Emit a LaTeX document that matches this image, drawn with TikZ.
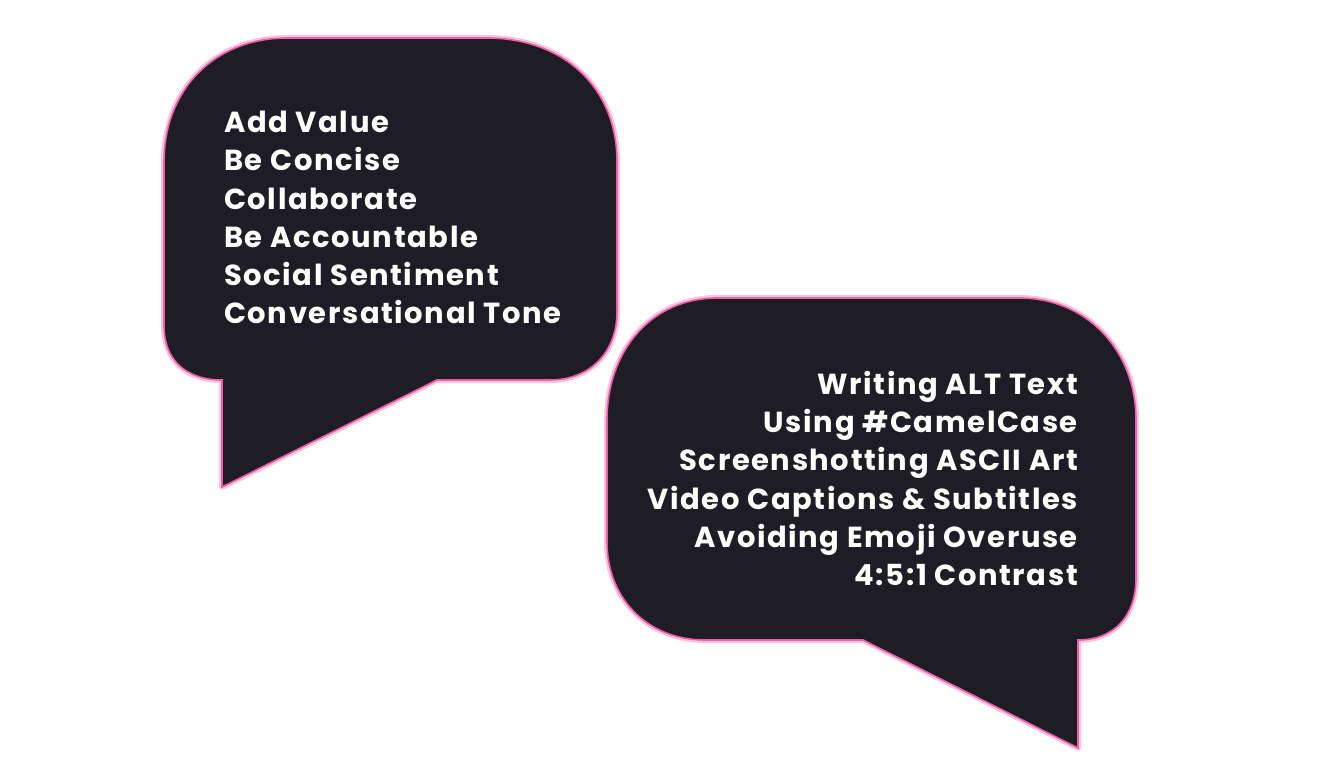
\documentclass[tikz,border=0pt]{standalone}
\usepackage{fontspec}
\setmainfont{Poppins}[LetterSpace=5.5]
\definecolor{bubblefill}{HTML}{1E1D25}
\definecolor{bubbleline}{HTML}{EE5FA7}
\definecolor{bubbleglow}{HTML}{F9C6DF}

\tikzset{
  bubble/.style={preaction={draw=bubbleglow, line width=6pt, line join=round},
    fill=bubblefill, draw=bubbleline, line width=1.6pt, line join=miter},
  bubbletext/.style={text=white, inner sep=0pt,
    font=\bfseries\fontsize{29}{38.2}\selectfont}
}

\begin{document}
\begin{tikzpicture}[x=1pt,y=-1pt]
  \useasboundingbox (0,0) rectangle (1322,784);
  % left bubble, tail at the bottom left
  \draw[bubble] (222,380) -- (222,487) -- (437,380) -- (550,380)
    .. controls (590,380) and (617,352) .. (617,312) -- (617,162)
    .. controls (617,86) and (562,38) .. (487,38) -- (287,38)
    .. controls (214,38) and (164,90) .. (164,162) -- (164,326)
    .. controls (164,360) and (186,380) .. (222,380) -- cycle;
  % right bubble, tail at the bottom right
  \draw[bubble] (1078,640) -- (1078,748) -- (863,640) -- (705,640)
    .. controls (647,640) and (607,598) .. (607,542) -- (607,420)
    .. controls (607,350) and (652,298) .. (717,298) -- (1020,298)
    .. controls (1086,298) and (1136,350) .. (1136,420) -- (1136,578)
    .. controls (1136,616) and (1114,640) .. (1078,640) -- cycle;

  \node[bubbletext, align=left, anchor=north west] (lefttext) at (224,111)
    {Add Value\\Be Concise\\Collaborate\\Be Accountable\\Social Sentiment\\Conversational Tone};
  \node[bubbletext, align=right, anchor=north east] (righttext) at (1078,371)
    {Writing ALT Text\\Using \#CamelCase\\Screenshotting ASCII Art\\Video Captions \& Subtitles\\Avoiding Emoji Overuse\\4:5:1 Contrast};
\end{tikzpicture}
\end{document}
